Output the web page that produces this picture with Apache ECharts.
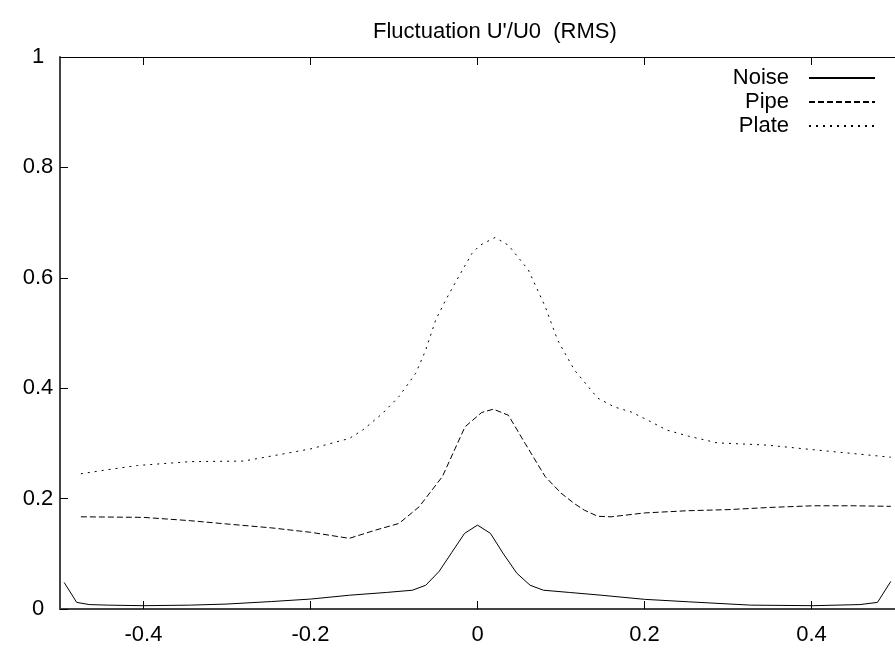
<!DOCTYPE html>
<html>
<head>
<meta charset="utf-8">
<script src="https://cdn.jsdelivr.net/npm/echarts@6/dist/echarts.min.js"></script>
<style>
  html, body { margin: 0; padding: 0; background: #fff; }
  #chart { width: 895px; height: 648px; }
</style>
</head>
<body>
<div id="chart"></div>
<script>
// Probe position (x) and RMS fluctuation U'/U0 for each configuration
const noiseX = [-0.495, -0.480, -0.465, -0.443, -0.400, -0.344, -0.300, -0.247, -0.200, -0.153, -0.109, -0.078, -0.062, -0.046, -0.031, -0.0155, 0, 0.0155, 0.031, 0.047, 0.063, 0.079, 0.110, 0.148, 0.200, 0.253, 0.327, 0.402, 0.458, 0.479, 0.495];
const noiseY = [0.048, 0.012, 0.008, 0.007, 0.006, 0.007, 0.009, 0.0135, 0.018, 0.025, 0.030, 0.034, 0.043, 0.068, 0.102, 0.137, 0.152, 0.137, 0.100, 0.065, 0.043, 0.034, 0.030, 0.025, 0.0175, 0.013, 0.007, 0.006, 0.008, 0.012, 0.050];

const pipeX = [-0.475, -0.400, -0.344, -0.300, -0.247, -0.200, -0.1535, -0.122, -0.094, -0.070, -0.042, -0.027, -0.015, 0.005, 0.019, 0.037, 0.057, 0.081, 0.100, 0.116, 0.128, 0.144, 0.160, 0.200, 0.251, 0.300, 0.350, 0.402, 0.450, 0.495];
const pipeY = [0.167, 0.166, 0.160, 0.154, 0.147, 0.139, 0.128, 0.143, 0.155, 0.185, 0.240, 0.290, 0.330, 0.356, 0.362, 0.351, 0.300, 0.240, 0.210, 0.191, 0.179, 0.168, 0.167, 0.174, 0.178, 0.180, 0.184, 0.187, 0.187, 0.186];

const plateX = [-0.475, -0.440, -0.407, -0.344, -0.280, -0.247, -0.200, -0.1535, -0.1376, -0.114, -0.094, -0.074, -0.062, -0.050, -0.038, -0.0226, -0.0067, 0.003, 0.021, 0.037, 0.061, 0.081, 0.096, 0.116, 0.144, 0.164, 0.184, 0.204, 0.227, 0.253, 0.287, 0.346, 0.406, 0.495];
const plateY = [0.245, 0.253, 0.260, 0.267, 0.268, 0.277, 0.290, 0.309, 0.324, 0.354, 0.385, 0.427, 0.469, 0.524, 0.560, 0.602, 0.644, 0.659, 0.673, 0.659, 0.614, 0.548, 0.487, 0.433, 0.382, 0.366, 0.357, 0.342, 0.324, 0.313, 0.301, 0.297, 0.288, 0.275];

const seriesNames = ['Noise', 'Pipe', 'Plate'];
const xTickValues = [-0.4, -0.2, 0, 0.2, 0.4];

const zip = (xs, ys) => xs.map((x, i) => [x, ys[i]]);

const FONT = 'Liberation Sans, Arial, sans-serif';
const chart = echarts.init(document.getElementById('chart'), null, { renderer: 'canvas' });

const fmtNum = v => {
  const r = Math.round(v * 10) / 10;
  return r === 0 ? '0' : String(r);
};

const lineSeries = (name, data, dash) => ({
  name,
  type: 'line',
  data,
  showSymbol: false,
  symbol: 'none',
  smooth: false,
  animation: false,
  color: '#000',
  itemStyle: { color: '#000' },
  lineStyle: { color: '#000', width: 1, type: dash }
});

chart.setOption({
  animation: false,
  backgroundColor: '#fff',
  title: {
    text: "Fluctuation U'/U0  (RMS)",
    left: 368,
    top: 16,
    textStyle: { fontFamily: FONT, fontSize: 22, fontWeight: 'normal', color: '#000' }
  },
  legend: {
    data: seriesNames,
    orient: 'vertical',
    right: 14,
    top: 62,
    align: 'right',
    itemWidth: 66,
    itemHeight: 14,
    itemGap: 2,
    itemStyle: { opacity: 0 },
    textStyle: { fontFamily: FONT, fontSize: 22, color: '#000', padding: [0, 15, 0, 0] }
  },
  grid: { left: 60, right: -10, top: 57, bottom: 39 },
  xAxis: [{
    type: 'value',
    min: -0.5,
    max: 0.5,
    position: 'bottom',
    axisLine: { show: true, onZero: false, lineStyle: { color: '#444', width: 2 } },
    axisTick: { show: true, inside: true, length: 8, customValues: xTickValues, lineStyle: { color: '#000', width: 1 } },
    axisLabel: {
      margin: 15,
      fontFamily: FONT, fontSize: 22, color: '#000',
      customValues: xTickValues,
      formatter: fmtNum
    },
    splitLine: { show: false }
  }, {
    type: 'value',
    min: -0.5,
    max: 0.5,
    position: 'top',
    axisLine: { show: true, onZero: false, lineStyle: { color: '#000', width: 1 } },
    axisTick: { show: true, inside: true, length: 8, customValues: xTickValues, lineStyle: { color: '#000', width: 1 } },
    axisLabel: { show: false },
    splitLine: { show: false }
  }],
  yAxis: [{
    type: 'value',
    min: 0,
    max: 1,
    interval: 0.2,
    position: 'left',
    axisLine: { show: true, onZero: false, lineStyle: { color: '#444', width: 2 } },
    axisTick: { show: true, inside: true, length: 8, lineStyle: { color: '#000', width: 1 } },
    axisLabel: {
      align: 'center',
      margin: 22,
      fontFamily: FONT, fontSize: 22, color: '#000',
      formatter: fmtNum
    },
    splitLine: { show: false }
  }],
  series: [
    lineSeries(seriesNames[0], zip(noiseX, noiseY), 'solid'),
    lineSeries(seriesNames[1], zip(pipeX, pipeY), [6, 3]),
    lineSeries(seriesNames[2], zip(plateX, plateY), [2, 5])
  ]
});
</script>
</body>
</html>
